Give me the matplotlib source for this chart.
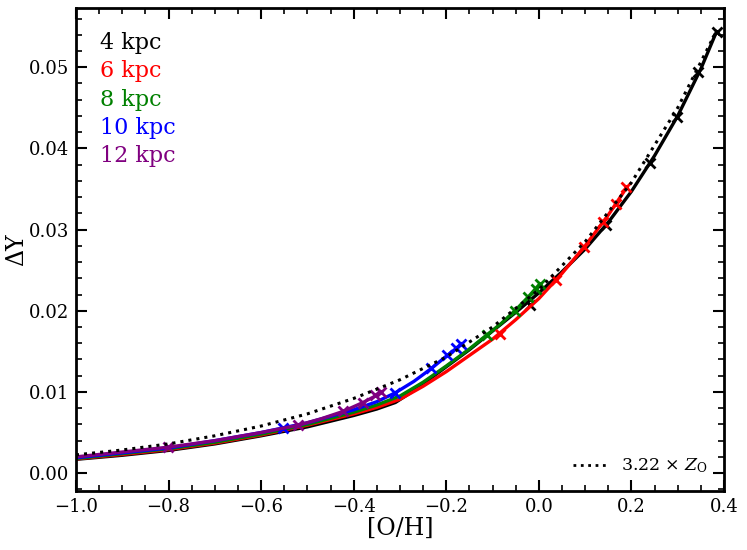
import matplotlib
matplotlib.use("Agg")
import matplotlib.pyplot as plt
from matplotlib.ticker import MultipleLocator, FormatStrFormatter, FuncFormatter
from matplotlib.lines import Line2D

plt.rcParams['font.family'] = ['DejaVu Serif']
plt.rcParams['mathtext.fontset'] = 'dejavuserif'

labels = ["4 kpc", "6 kpc", "8 kpc", "10 kpc", "12 kpc"]
colors = ["black", "red", "green", "blue", "purple"]

# 4 kpc
x4 = [-1.0, -0.9, -0.8, -0.7, -0.6, -0.5, -0.45, -0.4, -0.35, -0.31, -0.28, -0.25, -0.2, -0.15,
      -0.1, -0.05, 0.0, 0.05, 0.1, 0.15, 0.2, 0.25, 0.3, 0.35, 0.384]
y4 = [0.0017, 0.0022, 0.0028, 0.0036, 0.0046, 0.0057, 0.0064, 0.0071, 0.0079, 0.0087, 0.0098,
      0.0110, 0.0131, 0.0152, 0.0175, 0.0198, 0.0222, 0.0248, 0.0276, 0.0309, 0.0347, 0.0391,
      0.0440, 0.0498, 0.0544]
mx4 = [-0.02, 0.145, 0.24, 0.298, 0.343, 0.384]
my4 = [0.0207, 0.0306, 0.0382, 0.0439, 0.0494, 0.0544]

# 6 kpc
x6 = [-1.0, -0.9, -0.8, -0.7, -0.6, -0.5, -0.4, -0.35, -0.3, -0.25, -0.2, -0.15, -0.1, -0.05,
      0.0, 0.05, 0.1, 0.15, 0.19]
y6 = [0.00175, 0.0023, 0.0029, 0.0037, 0.0047, 0.0059, 0.0073, 0.0081, 0.0091, 0.0107, 0.0125,
      0.0145, 0.0165, 0.0189, 0.0215, 0.0246, 0.0280, 0.0318, 0.0352]
mx6 = [-0.084, 0.037, 0.097, 0.139, 0.167, 0.189]
my6 = [0.0171, 0.0238, 0.0279, 0.0309, 0.0332, 0.0352]

# 8 kpc
x8 = [-1.0, -0.9, -0.8, -0.7, -0.6, -0.5, -0.4, -0.35, -0.3, -0.25, -0.2, -0.15, -0.113,
      -0.08, -0.05, -0.023, 0.002]
y8 = [0.0018, 0.0024, 0.0030, 0.0038, 0.0048, 0.0060, 0.0075, 0.0084, 0.0095, 0.0112, 0.0132,
      0.0153, 0.0170, 0.0185, 0.0201, 0.0217, 0.0233]
mx8 = [-0.113, -0.052, -0.023, -0.006, 0.002]
my8 = [0.0170, 0.0200, 0.0217, 0.0227, 0.0233]

# 10 kpc
x10 = [-1.0, -0.9, -0.8, -0.7, -0.6, -0.55, -0.5, -0.45, -0.4, -0.35, -0.31, -0.27, -0.232,
       -0.2, -0.18, -0.168]
y10 = [0.0019, 0.0025, 0.0031, 0.0040, 0.0050, 0.0056, 0.0062, 0.0070, 0.0078, 0.0088, 0.0099,
       0.0113, 0.0129, 0.0144, 0.0153, 0.0159]
mx10 = [-0.553, -0.311, -0.232, -0.198, -0.179, -0.168]
my10 = [0.0056, 0.0099, 0.0129, 0.0145, 0.0154, 0.0159]

# 12 kpc
x12 = [-1.0, -0.9, -0.8, -0.7, -0.6, -0.52, -0.47, -0.423, -0.38, -0.353, -0.342]
y12 = [0.0020, 0.0026, 0.0032, 0.0040, 0.0050, 0.0059, 0.0067, 0.0076, 0.0087, 0.0095, 0.0100]
mx12 = [-0.801, -0.520, -0.423, -0.379, -0.353, -0.342]
my12 = [0.0032, 0.0059, 0.0076, 0.0087, 0.0096, 0.0100]

# 3.22 x Z_O dotted relation
xd = [-1.0, -0.9, -0.8, -0.7, -0.6, -0.5, -0.4, -0.3, -0.2, -0.1, 0.0, 0.1, 0.2, 0.3, 0.385]
yd = [0.00225, 0.00285, 0.0036, 0.0046, 0.0058, 0.0073, 0.0092, 0.0115, 0.0143, 0.0180, 0.0226,
      0.0285, 0.0358, 0.0450, 0.0546]

lines = [(x4, y4, mx4, my4), (x6, y6, mx6, my6), (x8, y8, mx8, my8),
         (x10, y10, mx10, my10), (x12, y12, mx12, my12)]

fig = plt.figure(figsize=(7.47, 5.5), dpi=100)
ax = fig.add_axes([0.1017, 0.1073, 0.8675, 0.8782])

for (x, y, mx, my), c in zip(lines, colors):
    ax.plot(x, y, color=c, lw=2.4, solid_joinstyle='round')
    ax.plot(mx, my, ls='none', marker='x', ms=7, mew=2, color=c)

ax.plot(xd, yd, color='black', ls=':', lw=2.2)

ax.set_xlim(-1.0, 0.4)
ax.set_ylim(-0.0022, 0.0573)

ax.xaxis.set_major_locator(MultipleLocator(0.2))
ax.xaxis.set_minor_locator(MultipleLocator(0.05))
ax.yaxis.set_major_locator(MultipleLocator(0.01))
ax.yaxis.set_minor_locator(MultipleLocator(0.002))
ax.yaxis.set_major_formatter(FormatStrFormatter('%.2f'))
ax.xaxis.set_major_formatter(FuncFormatter(lambda v, p: ('%.1f' % v).replace('-', '\u2212')))

ax.tick_params(which='both', direction='in', top=True, right=True, labelsize=13)
ax.tick_params(which='major', length=8, width=1.5, pad=5)
ax.tick_params(which='minor', length=4, width=1.2)
for s in ax.spines.values():
    s.set_linewidth(2)

ax.set_xlabel('[O/H]', fontsize=17, labelpad=1)
ax.set_ylabel('ΔY', fontsize=17)
ax.yaxis.set_label_coords(-0.074, 0.5)

for i, (lab, c) in enumerate(zip(labels, colors)):
    ax.text(0.037, 0.9275 - i * 0.0586, lab, color=c, fontsize=16,
            transform=ax.transAxes, va='center', ha='left')

h = Line2D([], [], color='black', ls=':', lw=2)
ax.legend([h], [r'3.22 $\times$ $Z_{\rm O}$'], loc='lower right', frameon=False,
          fontsize=12.5, handlelength=2.0)

fig.savefig('out.png', dpi=100)
